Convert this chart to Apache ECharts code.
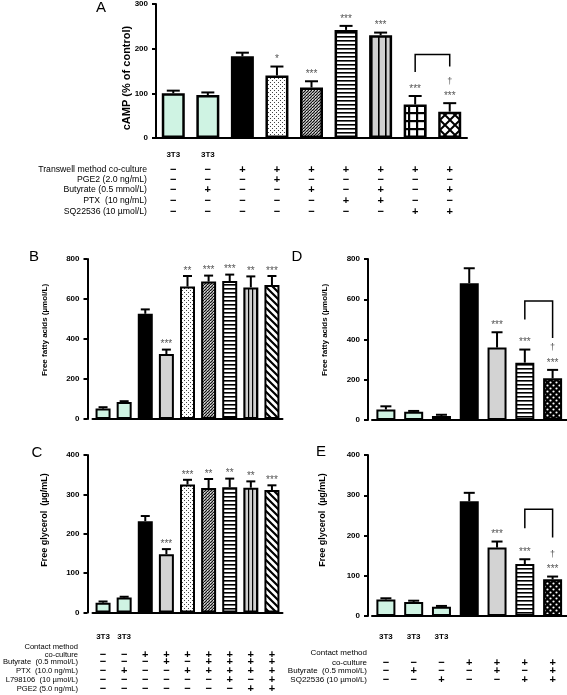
<!DOCTYPE html>
<html><head><meta charset="utf-8">
<script src="https://cdn.jsdelivr.net/npm/echarts@6/dist/echarts.min.js"></script>
<style>html,body{margin:0;padding:0;background:#fff}#c{width:567px;height:695px}</style>
</head><body><div id="c"></div>
<script>
// ---------------- data ----------------
const aLabels = ['3T3', '3T3', '', '', '', '', '', '', ''];
const aValues = [100, 96, 183, 140, 113, 242, 230, 75, 59];
const aSem = [6, 6, 8, 20, 14, 9, 6, 19, 19];
const aStars = ['', '', '', '*', '***', '***', '***', '***', '***'];
const aDagger = ['', '', '', '', '', '', '', '', '†'];
const aBracket = [7, 8, 187, 148, 160];
const aTicks = [0, 300, 100];
const aRowNames = ['Transwell method co-culture', 'PGE2 (2.0 ng/mL)', 'Butyrate (0.5 mmol/L)', 'PTX  (10 ng/mL)', 'SQ22536 (10 µmol/L)'];
const aRows = ['--+++++++', '---+-----', '-+--+-+-+', '-----++--', '-------++'];

const bLabels = ['', '', '', '', '', '', '', '', ''];
const bValues = [52, 85, 526, 325, 662, 687, 690, 658, 670];
const bSem = [7, 4, 22, 22, 53, 30, 32, 55, 45];
const bStars = ['', '', '', '***', '**', '***', '***', '**', '***'];
const bTicks = [0, 800, 200];

const cLabels = ['3T3', '3T3', '', '', '', '', '', '', ''];
const cValues = [25, 38, 232, 148, 325, 316, 318, 317, 311];
const cSem = [3, 2, 13, 13, 12, 23, 22, 16, 12];
const cStars = ['', '', '', '***', '***', '**', '**', '**', '***'];
const cTicks = [0, 400, 100];
const bcRowNames = ['co-culture', 'Butyrate  (0.5 mmol/L)', 'PTX  (10.0 ng/mL)', 'L798106  (10 µmol/L)', 'PGE2 (5.0 ng/mL)'];
const bcRows = ['--+++++++', '---+-++++', '-+--+++++', '------+-+', '-------++'];

const dLabels = ['', '', '', '', '', '', ''];
const dValues = [52, 41, 20, 680, 360, 285, 207];
const dSem = [16, 4, 6, 74, 76, 65, 42];
const dStars = ['', '', '', '', '***', '***', '***'];
const dDagger = ['', '', '', '', '', '', '†'];
const dBracket = [5, 6, 591, 499, 408];
const dTicks = [0, 800, 200];

const eLabels = ['3T3', '3T3', '3T3', '', '', '', ''];
const eValues = [41, 35, 23, 285, 170, 129, 91];
const eSem = [3, 3, 2, 21, 15, 12, 7];
const eStars = ['', '', '', '', '***', '***', '***'];
const eDagger = ['', '', '', '', '', '', '†'];
const eBracket = [5, 6, 265, 218, 195];
const eTicks = [0, 400, 100];
const deRowNames = ['co-culture', 'Butyrate  (0.5 mmol/L)', 'SQ22536 (10 µmol/L)'];
const deRows = ['---++++', '-+--+-+', '--+--++'];

// ---------------- styles ----------------
const FONT = 'Liberation Sans, Arial, Helvetica, sans-serif';
function pat(w, h, draw) {
  const c = document.createElement('canvas');
  c.width = w; c.height = h;
  const g = c.getContext('2d');
  draw(g, w, h);
  return { image: c, repeat: 'repeat' };
}
const P = {
  mint: '#cff3e3',
  black: '#000000',
  gray: '#d3d3d3',
  dots: pat(4, 4, (g) => { g.fillStyle = '#fff'; g.fillRect(0, 0, 4, 4); g.fillStyle = '#444'; g.fillRect(0, 0, 1, 1); g.fillRect(2, 2, 1, 1); }),
  hatch: pat(3, 3, (g) => { g.fillStyle = '#9a9a9a'; g.fillRect(0, 0, 3, 3); g.fillStyle = '#111'; g.fillRect(2, 0, 1, 1); g.fillRect(1, 1, 1, 1); g.fillRect(0, 2, 1, 1); g.fillStyle = '#e0e0e0'; g.fillRect(0, 0, 1, 1); }),
  hlines: pat(4, 4, (g) => { g.fillStyle = '#fff'; g.fillRect(0, 0, 4, 4); g.fillStyle = '#000'; g.fillRect(0, 0, 4, 1.6); }),
  vlinesWide: pat(7, 4, (g) => { g.fillStyle = '#d0d0d0'; g.fillRect(0, 0, 7, 4); g.fillStyle = '#000'; g.fillRect(0, 0, 1.6, 4); }),
  vlines: pat(4, 4, (g) => { g.fillStyle = '#cfcfcf'; g.fillRect(0, 0, 4, 4); g.fillStyle = '#000'; g.fillRect(0, 0, 1.2, 4); }),
  grid: pat(8, 8, (g) => { g.fillStyle = '#fff'; g.fillRect(0, 0, 8, 8); g.fillStyle = '#000'; g.fillRect(0, 0, 8, 2.2); g.fillRect(0, 0, 2.2, 8); }),
  cross: pat(10, 10, (g) => { g.fillStyle = '#fff'; g.fillRect(0, 0, 10, 10); g.strokeStyle = '#000'; g.lineWidth = 2;
    g.beginPath(); g.moveTo(-1, -1); g.lineTo(11, 11); g.moveTo(11, -1); g.lineTo(-1, 11); g.stroke(); }),
  diag: pat(7, 7, (g) => { g.fillStyle = '#fff'; g.fillRect(0, 0, 7, 7); g.strokeStyle = '#000'; g.lineWidth = 2.2;
    g.beginPath(); g.moveTo(-1, -1); g.lineTo(8, 8); g.moveTo(-8, -1); g.lineTo(1, 8); g.moveTo(6, -1); g.lineTo(15, 8); g.stroke(); }),
  checker: pat(6, 6, (g) => { g.fillStyle = '#000'; g.fillRect(0, 0, 6, 6); g.fillStyle = '#fff';
    g.beginPath(); g.arc(1.5, 1.5, 1.1, 0, 7); g.arc(4.5, 4.5, 1.1, 0, 7); g.fill(); })
};
const aFills = ['mint', 'mint', 'black', 'dots', 'hatch', 'hlines', 'vlinesWide', 'grid', 'cross'];
const bcFills = ['mint', 'mint', 'black', 'gray', 'dots', 'hatch', 'hlines', 'vlines', 'diag'];
const deFills = ['mint', 'mint', 'mint', 'black', 'gray', 'hlines', 'checker'];

// ---------------- builders ----------------
const grids = [
  { left: 156, top: 4, width: 311, height: 134 },
  { left: 92.5, top: 259, width: 190, height: 160 },
  { left: 92.5, top: 455, width: 190, height: 157.5 },
  { left: 372, top: 259, width: 194.5, height: 161 },
  { left: 372, top: 455, width: 194.5, height: 161 }
];
const yOffsets = [0, 5, 5, 4, 4];
const labelMargins = [13, 10, 20, 10, 17];
const barWidths = [23, 15, 15, 19, 19];
const capWidths = [13, 9, 9, 11, 11];
const borderWidths = [2.5, 2, 2, 2, 2];
const starGaps = [8, 6, 6, 8, 8];

const panels = [
  { cats: aLabels, vals: aValues, sem: aSem, stars: aStars, dag: aDagger, fills: aFills, ticks: aTicks, bracket: aBracket },
  { cats: bLabels, vals: bValues, sem: bSem, stars: bStars, dag: null, fills: bcFills, ticks: bTicks, bracket: null },
  { cats: cLabels, vals: cValues, sem: cSem, stars: cStars, dag: null, fills: bcFills, ticks: cTicks, bracket: null },
  { cats: dLabels, vals: dValues, sem: dSem, stars: dStars, dag: dDagger, fills: deFills, ticks: dTicks, bracket: dBracket },
  { cats: eLabels, vals: eValues, sem: eSem, stars: eStars, dag: eDagger, fills: deFills, ticks: eTicks, bracket: eBracket }
];

const xAxes = [], yAxes = [], series = [];
panels.forEach((p, k) => {
  xAxes.push({
    type: 'category', gridIndex: k, data: p.cats,
    axisLine: { lineStyle: { color: '#000', width: 2 } },
    axisTick: { alignWithLabel: true, length: 4, lineStyle: { color: '#000', width: 2 } },
    axisLabel: { interval: 0, margin: labelMargins[k], fontSize: 8, fontWeight: 'bold', color: '#000', fontFamily: FONT }
  });
  yAxes.push({
    type: 'value', gridIndex: k, min: p.ticks[0], max: p.ticks[1], interval: p.ticks[2], offset: yOffsets[k],
    axisLine: { show: true, lineStyle: { color: '#000', width: 2 } },
    axisTick: { show: true, length: 4, lineStyle: { color: '#000', width: 2 } },
    splitLine: { show: false },
    axisLabel: { margin: 8, fontSize: 8, fontWeight: 'bold', color: '#000', fontFamily: FONT }
  });
  series.push({
    type: 'bar', xAxisIndex: k, yAxisIndex: k, barWidth: barWidths[k], z: 2,
    data: p.vals.map((v, i) => ({ value: v, itemStyle: { color: P[p.fills[i]], borderColor: '#000', borderWidth: borderWidths[k] } }))
  });
  series.push({
    type: 'custom', xAxisIndex: k, yAxisIndex: k, z: 3, clip: false,
    encode: { x: 0, y: 1 },
    data: p.vals.map((v, i) => [i, v + p.sem[i]]),
    renderItem: (params, api) => {
      const i = params.dataIndex;
      const p0 = api.coord([i, p.vals[i]]);
      const p1 = api.coord([i, p.vals[i] + p.sem[i]]);
      const cw = capWidths[k];
      const ch = [
        { type: 'line', shape: { x1: p0[0], y1: p0[1], x2: p1[0], y2: p1[1] }, style: { stroke: '#000', lineWidth: 2 } },
        { type: 'line', shape: { x1: p1[0] - cw / 2, y1: p1[1], x2: p1[0] + cw / 2, y2: p1[1] }, style: { stroke: '#000', lineWidth: 2 } }
      ];
      if (p.stars[i]) ch.push({ type: 'text', x: p1[0], y: p1[1] - starGaps[k] + 1,
        style: { text: p.stars[i], fontSize: 10, fontFamily: FONT, fill: '#555', align: 'center', verticalAlign: 'middle' } });
      if (p.dag && p.dag[i]) ch.push({ type: 'text', x: p1[0], y: p1[1] - starGaps[k] - 14,
        style: { text: p.dag[i], fontSize: 9, fontFamily: FONT, fill: '#555', align: 'center', verticalAlign: 'middle' } });
      return { type: 'group', children: ch };
    }
  });
  if (p.bracket) {
    const b = p.bracket;
    series.push({
      type: 'custom', xAxisIndex: k, yAxisIndex: k, z: 3, clip: false,
      encode: { x: 0, y: 1 },
      data: [[b[0], b[2]]],
      renderItem: (params, api) => {
        const l0 = api.coord([b[0], b[3]]), l1 = api.coord([b[0], b[2]]);
        const r1 = api.coord([b[1], b[2]]), r0 = api.coord([b[1], b[4]]);
        return { type: 'polyline', shape: { points: [l0, l1, r1, r0] }, style: { stroke: '#000', lineWidth: 1.5, fill: null } };
      }
    });
  }
});

const chart = echarts.init(document.getElementById('c'), null, { renderer: 'canvas' });
chart.setOption({
  animation: false,
  backgroundColor: '#fff',
  grid: grids.map(g => Object.assign({ containLabel: false, outerBoundsMode: 'none' }, g)),
  xAxis: xAxes, yAxis: yAxes, series: series
});

// ---------------- texts: panel letters, axis titles, condition tables ----------------
const G = [];
function txt(text, x, y, opt) {
  G.push(Object.assign({ type: 'text', x: x, y: y, silent: true,
    style: Object.assign({ text: text, fontFamily: FONT, fontSize: 8, fill: '#000', align: 'center', verticalAlign: 'middle' }, opt || {}) }));
}
function vtxt(text, x, y, size) {
  G.push({ type: 'text', x: x, y: y, rotation: Math.PI / 2, silent: true,
    style: { text: text, fontFamily: FONT, fontSize: size, fontWeight: 'bold', fill: '#000', align: 'center', verticalAlign: 'middle' } });
}
txt('A', 101, 8, { fontSize: 15 });
txt('B', 34, 257, { fontSize: 15 });
txt('C', 37, 453, { fontSize: 15 });
txt('D', 297, 257, { fontSize: 15 });
txt('E', 321, 452, { fontSize: 15 });

vtxt('cAMP (% of control)', 127, 78, 11);
vtxt('Free fatty acids (µmol/L)', 45, 330, 8);
vtxt('Free glycerol  (µg/mL)', 45, 520, 9);
vtxt('Free fatty acids (µmol/L)', 325, 330, 8);
vtxt('Free glycerol  (µg/mL)', 323, 520, 9);

function table(axisIdx, names, rows, labelX, ys, fs) {
  names.forEach((n, r) => {
    txt(n, labelX, ys[r], { align: 'right', fontSize: fs });
    rows[r].split('').forEach((s, i) => {
      const x = chart.convertToPixel({ xAxisIndex: axisIdx }, i);
      txt(s === '+' ? '+' : '−', x, ys[r], { fontSize: 11, fontWeight: 'bold' });
    });
  });
}
table(0, aRowNames, aRows, 147, [169.5, 179.5, 190, 200.5, 211.5], 8.7);
txt('Contact method', 78, 647, { align: 'right', fontSize: 7.6 });
table(2, bcRowNames, bcRows, 78, [654.5, 661.5, 670.5, 679.5, 688.5], 7.6);
txt('Contact method', 367, 653, { align: 'right', fontSize: 8 });
table(4, deRowNames, deRows, 367, [662.5, 671, 680], 8);

chart.setOption({ graphic: G });
</script>
</body></html>
